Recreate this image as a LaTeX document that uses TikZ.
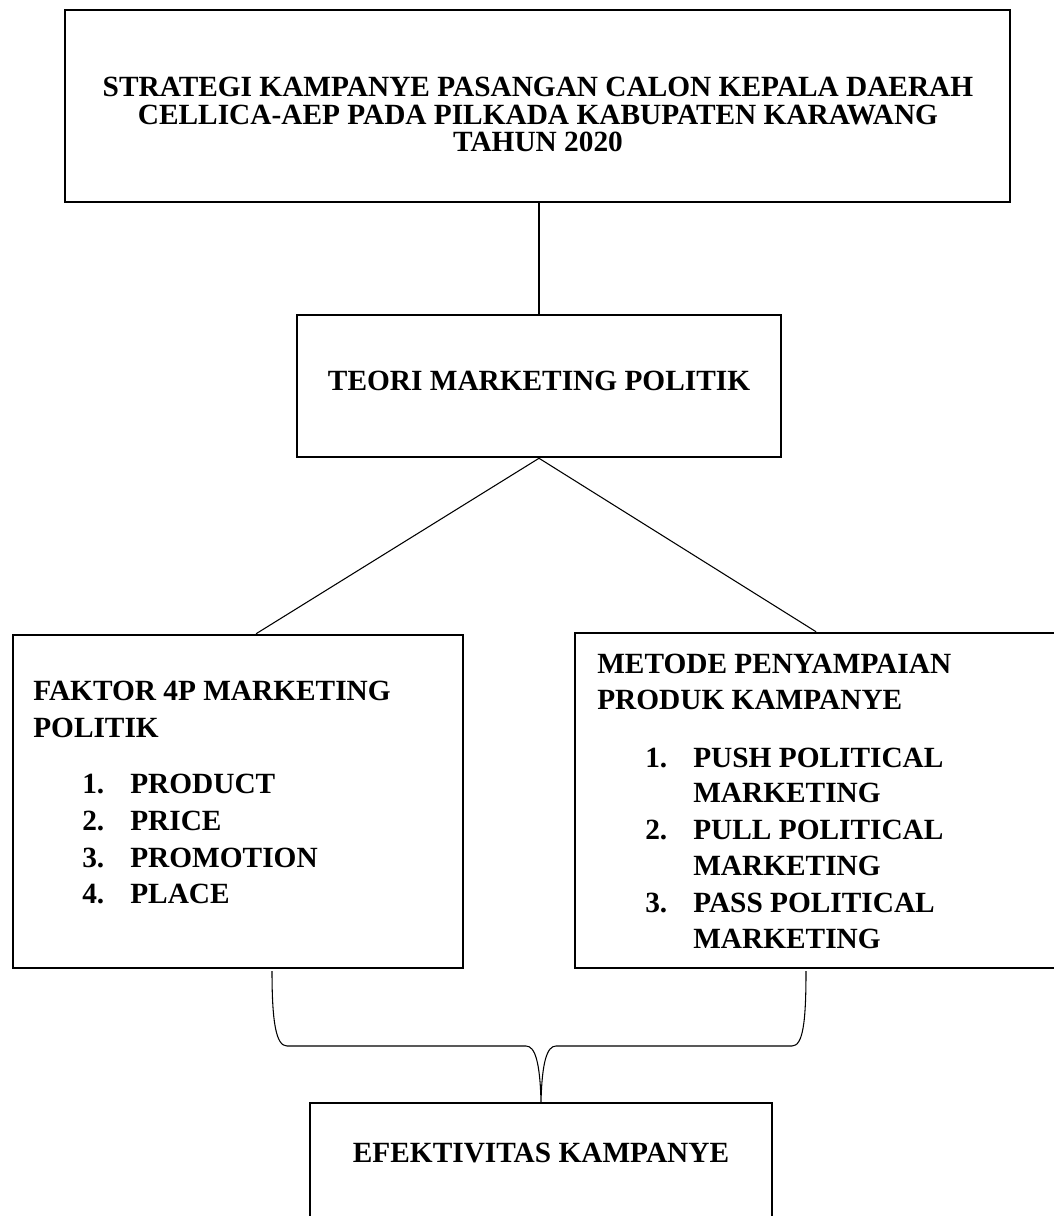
\documentclass[tikz,border=0pt]{standalone}
\usepackage{fontspec}
\setmainfont{Liberation Serif}
\usetikzlibrary{fit,calc}
\begin{document}
\begin{tikzpicture}[x=0.75pt,y=-0.75pt,
  box/.style={draw, line width=1.9pt, inner sep=0pt},
  conn/.style={line width=0.8pt},
  txt/.style={font=\bfseries\fontsize{22}{26}\selectfont, inner sep=0pt},
  ctxt/.style={txt, anchor=base},
  ltxt/.style={txt, anchor=base west}]
\fill[white] (0,0) rectangle (1053,1216);
\useasboundingbox (0,0) rectangle (1053,1216);

% boxes
\node[box, fit={(65,10)(1010,202)}] (top) {};
\node[box, fit={(297,315)(781,457)}] (teori) {};
\node[box, fit={(13,635)(463,968)}] (left) {};
\node[box, fit={(575,633)(1062,968)}] (right) {};
\node[box, fit={(310,1103)(772,1230)}] (bot) {};

% top text
\node[ctxt] (t1) at (538,97) {STRATEGI KAMPANYE PASANGAN CALON KEPALA DAERAH};
\node[ctxt] (t2) at (538,125) {CELLICA-AEP PADA PILKADA KABUPATEN KARAWANG};
\node[ctxt] (t3) at (538,152) {TAHUN 2020};

% teori text
\node[ctxt] (teoritxt) at (539,390) {TEORI MARKETING POLITIK};

% left text
\node[ltxt] (l1) at (33,700) {FAKTOR 4P MARKETING};
\node[ltxt] (l2) at (33,737) {POLITIK};
\node[ltxt] (ln1) at (82,793) {1.};
\node[ltxt] (li1) at (130,793) {PRODUCT};
\node[ltxt] (ln2) at (82,830) {2.};
\node[ltxt] (li2) at (130,830) {PRICE};
\node[ltxt] (ln3) at (82,867) {3.};
\node[ltxt] (li3) at (130,867) {PROMOTION};
\node[ltxt] (ln4) at (82,903) {4.};
\node[ltxt] (li4) at (130,903) {PLACE};

% right text
\node[ltxt] (r1) at (597,673) {METODE PENYAMPAIAN};
\node[ltxt] (r2) at (597,709) {PRODUK KAMPANYE};
\node[ltxt] (rn1) at (645,767) {1.};
\node[ltxt] (ri1a) at (693,767) {PUSH POLITICAL};
\node[ltxt] (ri1b) at (693,802) {MARKETING};
\node[ltxt] (rn2) at (645,839) {2.};
\node[ltxt] (ri2a) at (693,839) {PULL POLITICAL};
\node[ltxt] (ri2b) at (693,875) {MARKETING};
\node[ltxt] (rn3) at (645,912) {3.};
\node[ltxt] (ri3a) at (693,912) {PASS POLITICAL};
\node[ltxt] (ri3b) at (693,948) {MARKETING};

% bottom text
\node[ctxt] (bottxt) at (541,1162) {EFEKTIVITAS KAMPANYE};

% connectors
\draw[conn] (teori.north) -- (teori.north |- top.south);
\draw[conn] (teori.south) -- ($(left.north west)!0.54!(left.north east)$);
\draw[conn] (teori.south) -- ($(right.north west)!0.495!(right.north east)$);

% brace
\coordinate (bl) at (272,971);
\coordinate (br) at (806,971);
\draw[conn] (bl) .. controls (272,1022) and (276,1046) .. (287,1046)
  -- (526,1046) .. controls (535,1046) and (540,1062) .. (bot.north)
  .. controls (542,1062) and (547,1046) .. (556,1046)
  -- (792,1046) .. controls (803,1046) and (806,1022) .. (br);
\end{tikzpicture}
\end{document}
